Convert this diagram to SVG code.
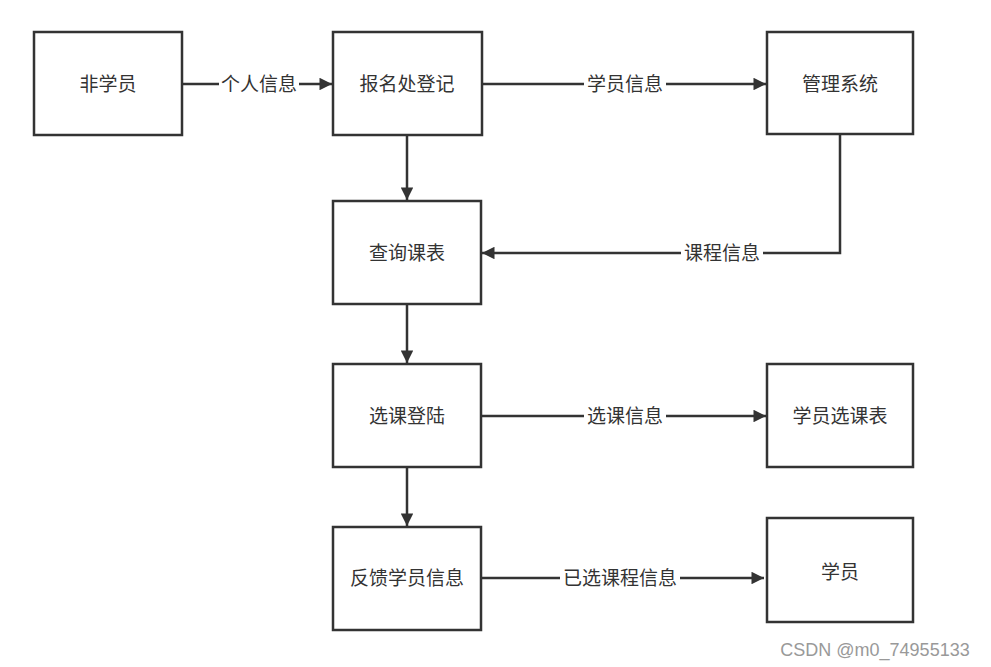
<svg xmlns="http://www.w3.org/2000/svg" width="991" height="667" viewBox="0 0 991 667">
<style>
.box{fill:#fff;stroke:#333;stroke-width:2.5}
.t{font-family:"Liberation Sans","Noto Sans CJK SC",sans-serif;font-size:19px;fill:#333;text-anchor:middle;dominant-baseline:central}
.c{fill:none;stroke:#333;stroke-width:2.5}
.lb{fill:#fff}
</style>
<defs>
<marker id="ah" viewBox="0 0 10 10" refX="10" refY="5" markerWidth="6.5" markerHeight="5" markerUnits="strokeWidth" orient="auto">
<path d="M0,0 L10,5 L0,10 Z" fill="#333"/>
</marker>
</defs>
<rect width="991" height="667" fill="#fff"/>
<g id="connectors">
<path class="c" d="M182,84 H332" marker-end="url(#ah)"/>
<rect class="lb" x="219" y="72" width="80" height="24"/>
<text class="t" x="259" y="84">个人信息</text>
<path class="c" d="M482,84 H766" marker-end="url(#ah)"/>
<rect class="lb" x="584" y="72" width="82" height="24"/>
<text class="t" x="625" y="84">学员信息</text>
<path class="c" d="M407,135 V200" marker-end="url(#ah)"/>
<path class="c" d="M840,134 V253 H482" marker-end="url(#ah)"/>
<rect class="lb" x="681" y="241" width="82" height="24"/>
<text class="t" x="722" y="253">课程信息</text>
<path class="c" d="M407,304 V363" marker-end="url(#ah)"/>
<path class="c" d="M482,416 H766" marker-end="url(#ah)"/>
<rect class="lb" x="584" y="404" width="82" height="24"/>
<text class="t" x="625" y="416">选课信息</text>
<path class="c" d="M407,467 V526" marker-end="url(#ah)"/>
<path class="c" d="M482,578 H764" marker-end="url(#ah)"/>
<rect class="lb" x="560" y="566" width="120" height="24"/>
<text class="t" x="620" y="578">已选课程信息</text>
</g>
<g id="n1"><rect class="box" x="34" y="32" width="148" height="103"/><text class="t" x="108" y="84">非学员</text></g>
<g id="n2"><rect class="box" x="333" y="32" width="149" height="103"/><text class="t" x="407" y="84">报名处登记</text></g>
<g id="n3"><rect class="box" x="767" y="32" width="146" height="102"/><text class="t" x="840" y="84">管理系统</text></g>
<g id="n4"><rect class="box" x="333" y="201" width="148" height="103"/><text class="t" x="407" y="253">查询课表</text></g>
<g id="n5"><rect class="box" x="333" y="364" width="148" height="103"/><text class="t" x="407" y="416">选课登陆</text></g>
<g id="n6"><rect class="box" x="767" y="364" width="146" height="103"/><text class="t" x="840" y="416">学员选课表</text></g>
<g id="n7"><rect class="box" x="333" y="527" width="148" height="103"/><text class="t" x="407" y="578">反馈学员信息</text></g>
<g id="n8"><rect class="box" x="767" y="518" width="146" height="104"/><text class="t" x="840" y="572">学员</text></g>
<text x="875" y="650" style="font-family:'Liberation Sans',sans-serif;font-size:18px;fill:#999;text-anchor:middle;dominant-baseline:central">CSDN @m0_74955133</text>
</svg>
